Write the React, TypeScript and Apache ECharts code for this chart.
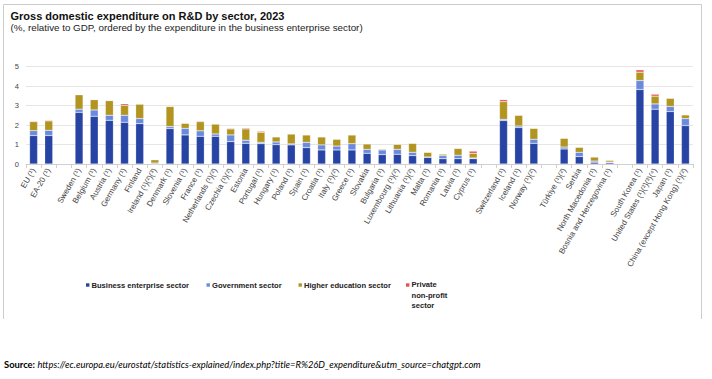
import React, { useEffect, useRef } from "react";
import * as echarts from "echarts";

const categories = [
  "EU (¹)", "EA-20 (¹)", "",
  "Sweden (¹)", "Belgium (¹)", "Austria (¹)", "Germany (¹)", "Finland", "Ireland (¹)(²)(³)",
  "Denmark (¹)", "Slovenia (¹)", "France (¹)", "Netherlands (¹)(²)", "Czechia (¹)(²)", "Estonia",
  "Portugal (¹)", "Hungary (¹)", "Poland (¹)", "Spain (¹)", "Croatia (¹)", "Italy (¹)(²)",
  "Greece (¹)", "Slovakia", "Bulgaria (¹)", "Luxembourg (¹)(²)", "Lithuania (¹)(²)", "Malta (¹)",
  "Romania (¹)", "Latvia (¹)", "Cyprus (¹)", "",
  "Switzerland (¹)", "Iceland (¹)", "Norway (¹)(²)", "",
  "Türkiye (¹)(²)", "Serbia", "North Macedonia (¹)", "Bosnia and Herzegovina (¹)", "",
  "South Korea (¹)", "United States (¹)(²)(³)(⁴)", "Japan (¹)", "China (except Hong Kong) (¹)(²)",
];

const business = [
  1.46, 1.46, null,
  2.65, 2.45, 2.24, 2.14, 2.07, 0,
  1.82, 1.49, 1.42, 1.42, 1.15, 1.06,
  1.04, 0.99, 0.98, 0.84, 0.72, 0.72,
  0.72, 0.55, 0.48, 0.5, 0.43, 0.34,
  0.27, 0.27, 0.27, null,
  2.23, 1.87, 1.06, null,
  0.77, 0.38, 0.09, 0.07, null,
  3.82, 2.81, 2.69, 1.97,
];

const government = [
  0.25, 0.27, null,
  0.16, 0.32, 0.26, 0.36, 0.26, 0.05,
  0.1, 0.34, 0.28, 0.12, 0.34, 0.16,
  0.07, 0.14, 0.05, 0.27, 0.26, 0.2,
  0.32, 0.2, 0.24, 0.25, 0.17, 0.02,
  0.16, 0.18, 0.04, null,
  0.06, 0.08, 0.21, null,
  0.1, 0.22, 0.06, 0.03, null,
  0.46, 0.27, 0.26, 0.36,
];

const higherEducation = [
  0.46, 0.48, null,
  0.74, 0.53, 0.75, 0.51, 0.74, 0.17,
  1.03, 0.26, 0.47, 0.51, 0.31, 0.58,
  0.52, 0.26, 0.51, 0.38, 0.41, 0.35,
  0.45, 0.28, 0.05, 0.26, 0.46, 0.24,
  0.08, 0.35, 0.24, null,
  0.91, 0.55, 0.56, null,
  0.45, 0.26, 0.21, 0.09, null,
  0.43, 0.4, 0.42, 0.19,
];

const privateNonProfit = [
  0.04, 0.04, null,
  0.02, 0.01, 0.02, 0.08, 0.02, 0,
  0.02, 0, 0.04, 0, 0.04, 0.05,
  0.05, 0.01, 0, 0.01, 0, 0.02,
  0.01, 0.01, 0.01, 0, 0, 0,
  0, 0, 0.11, null,
  0.1, 0, 0, null,
  0, 0, 0, 0, null,
  0.12, 0.1, 0.02, 0,
];

const seriesNames = [
  "Business enterprise sector",
  "Government sector",
  "Higher education sector",
  "Private non-profit sector",
];
const legendLabels = [
  "Business enterprise sector",
  "Government sector",
  "Higher education sector",
  "Private\nnon-profit\nsector",
];
const colors = ["#2743a4", "#6a8ade", "#b19520", "#e85050"];
const yTicks = [0, 1, 2, 3, 4, 5];

const titleText = "Gross domestic expenditure on R&D by sector, 2023";
const subtitleText = "(%, relative to GDP, ordered by the expenditure in the business enterprise sector)";
const sourceLabel = "Source:";
const sourceUrl = "https://ec.europa.eu/eurostat/statistics-explained/index.php?title=R%26D_expenditure&utm_source=chatgpt.com";

export default function App() {
  const ref = useRef<HTMLDivElement>(null);
  useEffect(() => {
    if (!ref.current) return;
    const chart = echarts.init(ref.current, null, { renderer: "svg" });
    const data = [business, government, higherEducation, privateNonProfit];
    const legendX = [86, 206.5, 298.5, 406];
    const legendItems: any[] = [];
    legendLabels.forEach((lbl, i) => {
      legendItems.push({
        type: "rect",
        shape: { x: legendX[i], y: 283.3, width: 3.4, height: 3.4 },
        style: { fill: colors[i] },
      });
      legendItems.push({
        type: "text",
        x: legendX[i] + 5.5,
        y: i === 3 ? 279.5 : 285,
        style: {
          text: lbl,
          fontSize: 7.6,
          fontWeight: "bold",
          fontFamily: "Liberation Sans, Arial, sans-serif",
          fill: "#222",
          verticalAlign: i === 3 ? "top" : "middle",
          lineHeight: 10.5,
        },
      });
    });
    const option: any = {
      animation: false,
      grid: { left: 26, right: 19, top: 66.5, height: 97.5 },
      xAxis: {
        type: "category",
        data: categories,
        axisLine: { lineStyle: { color: "#d0d0d0" } },
        axisTick: { show: true, interval: 0, length: 4, lineStyle: { color: "#d0d0d0" } },
        axisLabel: {
          interval: 0,
          rotate: 60,
          fontSize: 8,
          color: "#444",
          margin: 5,
          fontFamily: "Liberation Sans, Arial, sans-serif",
        },
      },
      yAxis: {
        type: "value",
        min: yTicks[0],
        max: yTicks[yTicks.length - 1],
        interval: 1,
        axisLine: { show: false },
        axisTick: { show: false },
        splitLine: { lineStyle: { color: "#e6e6e6" } },
        axisLabel: {
          fontSize: 7.5,
          color: "#444",
          margin: 7,
          fontFamily: "Liberation Sans, Arial, sans-serif",
        },
      },
      series: seriesNames.map((name, i) => ({
        name,
        type: "bar",
        stack: "total",
        barWidth: 8,
        data: data[i],
        itemStyle: { color: colors[i], borderColor: "rgba(255,255,255,0.45)", borderWidth: 0.5 },
      })),
      graphic: [
        { type: "line", shape: { x1: 3.5, y1: 4.5, x2: 701.5, y2: 4.5 }, style: { stroke: "#cccccc", lineWidth: 1 } },
        { type: "line", shape: { x1: 3.5, y1: 4.5, x2: 3.5, y2: 319 }, style: { stroke: "#cccccc", lineWidth: 1 } },
        { type: "line", shape: { x1: 701.5, y1: 4.5, x2: 701.5, y2: 319 }, style: { stroke: "#cccccc", lineWidth: 1 } },
        {
          type: "text",
          x: 10.5,
          y: 16,
          style: {
            text: titleText,
            fontSize: 11,
            fontWeight: "bold",
            fontFamily: "Liberation Sans, Arial, sans-serif",
            fill: "#111",
            verticalAlign: "middle",
          },
        },
        {
          type: "text",
          x: 10.5,
          y: 27.5,
          style: {
            text: subtitleText,
            fontSize: 9.8,
            fontFamily: "Liberation Sans, Arial, sans-serif",
            fill: "#222",
            verticalAlign: "middle",
          },
        },
        ...legendItems,
        {
          type: "text",
          x: 4,
          y: 364,
          style: {
            text: `{b|${sourceLabel}} {i|${sourceUrl}}`,
            fontSize: 9.4,
            fontFamily: "Lato, sans-serif",
            fill: "#000",
            verticalAlign: "middle",
            rich: {
              b: { fontWeight: "bold", fontSize: 9.4, fontFamily: "Lato, sans-serif", fill: "#000" },
              i: { fontStyle: "italic", fontSize: 9.4, fontFamily: "Lato, sans-serif", fill: "#000" },
            },
          },
        },
      ],
    };
    chart.setOption(option);
    return () => chart.dispose();
  }, []);
  return (
    <div
      ref={ref}
      style={{ position: "absolute", left: 0, top: 0, width: 712, height: 379, background: "#fff" }}
    />
  );
}
